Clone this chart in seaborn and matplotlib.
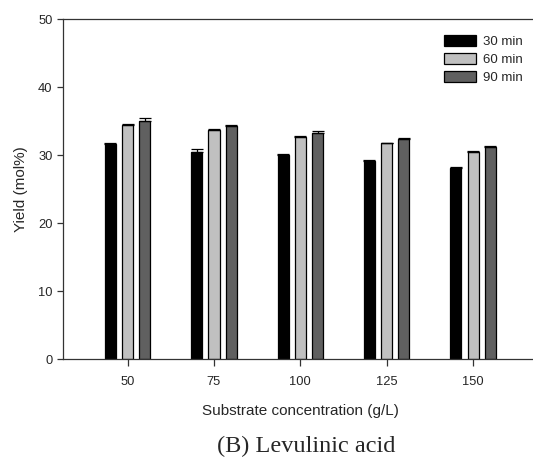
import numpy as np
import pandas as pd
import matplotlib
matplotlib.use("Agg")
import matplotlib.pyplot as plt
import seaborn as sns

# Values (Levulinic acid yield, mol%)
concentrations = ["50", "75", "100", "125", "150"]
times = ["30 min", "60 min", "90 min"]
yield_30 = [31.6, 30.4, 30.0, 29.1, 28.1]
yield_60 = [34.4, 33.7, 32.7, 31.7, 30.5]
yield_90 = [35.0, 34.3, 33.3, 32.3, 31.2]
err_30 = [0.1, 0.5, 0.1, 0.1, 0.1]
err_60 = [0.1, 0.15, 0.1, 0.1, 0.1]
err_90 = [0.5, 0.1, 0.3, 0.2, 0.1]
bar_colors = ["#000000", "#c0c0c0", "#606060"]

sns.set_style("ticks")
plt.rcParams["font.family"] = ["Liberation Sans", "DejaVu Sans"]

df = pd.DataFrame({
    "conc": concentrations * 3,
    "time": np.repeat(times, len(concentrations)),
    "yield": yield_30 + yield_60 + yield_90,
})
errs = [err_30, err_60, err_90]

fig = plt.figure(figsize=(5.33, 4.57), dpi=100)
ax = fig.add_axes([0.118, 0.2144, 0.891, 0.744])

sns.barplot(data=df, x="conc", y="yield", hue="time", order=concentrations,
            hue_order=times, palette=bar_colors, width=0.6, gap=0.36,
            edgecolor="black", linewidth=0.9, errorbar=None, ax=ax)

# upper-only error bars on top of each bar
for cont, err in zip(ax.containers, errs):
    xs = [p.get_x() + p.get_width() / 2 for p in cont.patches]
    ys = [p.get_height() for p in cont.patches]
    ax.errorbar(xs, ys, yerr=[np.zeros(len(err)), err], fmt="none",
                ecolor="black", elinewidth=0.9, capsize=4.5, capthick=0.9)

ax.set_xlim(-0.75, 4.75)
ax.set_ylim(0, 50)
ax.set_yticks([0, 10, 20, 30, 40, 50])
ax.set_xlabel("Substrate concentration (g/L)", fontsize=11, labelpad=12)
ax.set_ylabel("Yield (mol%)", fontsize=11, labelpad=7)
ax.tick_params(axis="both", labelsize=9.3, width=0.9, color="#333333")
ax.tick_params(axis="x", length=5, pad=7)
ax.tick_params(axis="y", length=4, pad=3.5)
for s in ax.spines.values():
    s.set_linewidth(0.9)
    s.set_color("#333333")

ax.legend(loc="upper left", bbox_to_anchor=(0.833, 0.924),
          bbox_transform=fig.transFigure, frameon=False, fontsize=9.5,
          handlelength=2.4, handleheight=0.9, labelspacing=0.39,
          handletextpad=0.55, borderpad=0, borderaxespad=0, title=None)

fig.text(0.575, 0.0103, "(B) Levulinic acid", ha="center", va="baseline",
         fontsize=17.5, family=["Liberation Serif", "DejaVu Serif"])

fig.savefig("out.png", dpi=100)
